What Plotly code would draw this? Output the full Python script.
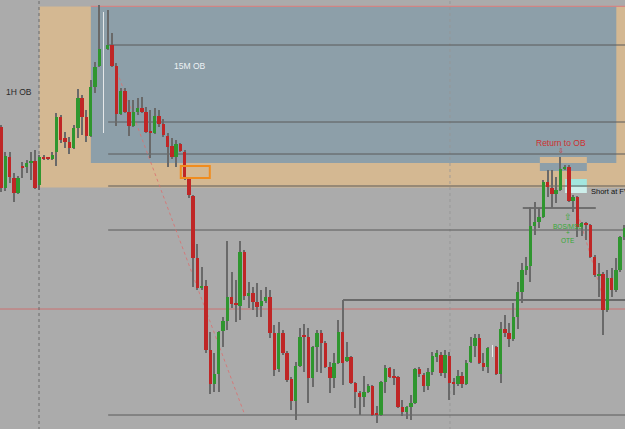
import plotly.graph_objects as go

# ---- candle data (bar index, price in points) ----
t = [i for i in range(147) if i not in (24, 115)]
open_ = [303,242,273,252,237,264,263,267,269,245,272,272,271,278,313,292,288,282,302,332,313,294,343,364,
         381,385,364,316,339,318,304,318,322,318,298,297,314,306,294,284,273,286,278,251,234,172,142,144,80,46,56,99,109,133,126,124,178,134,137,128,124,129,133,97,61,97,77,51,29,64,94,93,52,83,97,87,63,52,67,98,69,73,47,37,33,38,44,16,15,48,62,53,53,23,18,23,27,61,55,44,58,73,75,57,74,47,46,54,46,68,84,92,67,63,
         83,56,101,97,91,113,138,160,164,204,208,213,248,242,236,240,261,263,229,233,203,207,205,173,154,156,120,152,140,160,193]
high = [305,278,278,257,254,268,270,278,280,275,275,273,278,317,315,298,293,305,341,335,320,350,368,425,
        420,397,367,342,342,330,330,332,333,323,320,322,320,311,297,292,290,287,280,252,235,186,163,150,98,77,99,113,189,158,150,189,180,148,143,147,140,143,140,105,108,100,79,53,68,102,106,102,84,100,100,89,68,77,110,130,88,74,48,39,54,46,45,24,49,65,63,61,54,30,24,35,62,63,57,62,78,80,78,80,78,52,60,58,70,93,96,96,77,83,
        84,108,115,107,127,148,167,173,223,228,222,250,260,260,253,273,265,265,235,234,208,208,206,175,167,158,160,162,172,194,205]
low = [238,239,247,228,236,252,257,250,241,240,270,270,270,264,287,282,276,281,292,295,288,293,337,363,
       380,363,304,315,317,294,303,315,317,297,272,296,303,293,263,271,263,278,250,232,143,140,140,77,36,38,38,83,100,122,108,110,130,122,120,113,113,127,92,54,58,75,48,20,10,63,58,27,43,58,57,62,37,42,66,45,68,46,22,15,23,37,14,7,14,37,52,45,22,14,11,10,26,53,38,40,55,68,54,52,30,35,44,42,45,67,73,66,59,57,
       55,47,93,83,89,101,127,155,148,195,202,212,233,222,227,239,260,228,218,193,194,190,172,153,133,95,118,133,138,158,190]
close = [242,274,253,237,252,262,267,269,242,273,271,271,275,313,290,288,282,302,332,313,294,343,363,381,
         385,364,316,339,318,304,318,322,318,298,297,314,306,295,283,273,286,279,252,235,172,142,144,80,46,56,98,109,133,126,125,178,134,137,128,123,129,133,97,60,97,77,50,29,64,93,93,52,83,97,87,63,52,67,98,67,73,47,38,33,38,44,15,15,48,62,53,52,23,18,23,27,61,56,44,58,74,77,57,75,47,46,54,46,67,84,92,67,63,82,
         56,101,97,91,113,138,160,164,204,208,213,248,243,236,240,261,263,229,233,203,207,205,173,155,156,120,152,140,160,193,202]

# light (white) marks
white_t = [24, 115]
white_hi = [418, 85]
white_lo = [297, 73]

# horizontal levels
levels = [385, 308, 276, 244, 200, 15]
level_start = 25.1

GREEN = "#2f962f"
RED = "#bf2626"
WICK = "#696969"
BG = "#ababab"
ORANGE = "#d4b892"
BLUE = "#8d9fa9"
FONT = "Liberation Sans, Arial, sans-serif"

bottoms, heights, colors = [], [], []
for o, c in zip(open_, close):
    bottoms.append(min(o, c))
    heights.append(max(abs(c - o), 1.3))
    colors.append(GREEN if c >= o else RED)

fig = go.Figure()
fig.add_trace(go.Bar(x=t, y=[h - l for h, l in zip(high, low)], base=low, width=0.25,
                     marker=dict(color=WICK, line=dict(width=0)),
                     hoverinfo="skip", showlegend=False))
fig.add_trace(go.Bar(x=white_t, y=[h - l for h, l in zip(white_hi, white_lo)], base=white_lo, width=0.25,
                     marker=dict(color="rgba(245,245,245,0.85)", line=dict(width=0)),
                     hoverinfo="skip", showlegend=False))
fig.add_trace(go.Bar(x=t, y=heights, base=bottoms, width=0.8,
                     marker=dict(color=colors, line=dict(width=0)),
                     hoverinfo="skip", showlegend=False))

XR = [(0 - 1) / 4.27, (625 - 1) / 4.27]

shapes = []
shapes.append(dict(type="rect", x0=9.0, x1=150, y0=242.5, y1=423.5, fillcolor=ORANGE, line=dict(width=0), layer="below"))
shapes.append(dict(type="rect", x0=21.05, x1=144.1, y0=267, y1=423.5, fillcolor=BLUE, line=dict(width=0), layer="below"))
shapes.append(dict(type="rect", x0=126.2, x1=137.2, y0=267, y1=273, fillcolor=ORANGE, line=dict(width=0), layer="below"))
shapes.append(dict(type="rect", x0=126.2, x1=137.2, y0=259, y1=267, fillcolor=BLUE, line=dict(width=0), layer="below"))
shapes.append(dict(type="rect", x0=132.1, x1=137.2, y0=243, y1=251, fillcolor="#a3e6de", line=dict(width=0), layer="below"))
shapes.append(dict(type="rect", x0=132.1, x1=137.2, y0=237, y1=243, fillcolor="#cdeeea", line=dict(width=0), layer="below"))
shapes.append(dict(type="line", x0=21.05, x1=150, y0=423.7, y1=423.7, line=dict(color="rgba(225,120,120,0.9)", width=1), layer="below"))
shapes.append(dict(type="line", x0=-5, x1=150, y0=121, y1=121, line=dict(color="rgba(215,95,95,0.75)", width=1), layer="below"))
shapes.append(dict(type="line", x0=8.9, x1=8.9, y0=0, y1=430, line=dict(color="#6a6a6a", width=1, dash="dot"), layer="below"))
shapes.append(dict(type="line", x0=105.15, x1=105.15, y0=0, y1=430, line=dict(color="rgba(150,150,150,0.8)", width=1, dash="dot"), layer="below"))
for lv in levels:
    shapes.append(dict(type="line", x0=level_start, x1=150, y0=lv, y1=lv, line=dict(color="#5a5a5a", width=1), layer="below"))
shapes.append(dict(type="line", x0=80.1, x1=150, y0=130, y1=130, line=dict(color="#555555", width=1.3), layer="below"))
shapes.append(dict(type="line", x0=122.2, x1=139.3, y0=222, y1=222, line=dict(color="#333333", width=1), layer="below"))
shapes.append(dict(type="rect", x0=42.1, x1=48.9, y0=252, y1=264, line=dict(color="#f08c1e", width=2), fillcolor="rgba(0,0,0,0)", layer="above"))
shapes.append(dict(type="line", x0=27.2, x1=57.1, y0=358, y1=15, line=dict(color="rgba(220,110,110,0.8)", width=1, dash="dot"), layer="below"))
shapes.append(dict(type="line", x0=134.7, x1=141.2, y0=222, y1=130, line=dict(color="rgba(220,110,110,0.8)", width=1, dash="dot"), layer="below"))

annotations = [
    dict(x=4.2, y=338, text="1H OB", font=dict(color="#2a2a2a", size=8.5, family=FONT)),
    dict(x=44.2, y=364, text="15M OB", font=dict(color="#eef2f4", size=8.5, family=FONT)),
    dict(x=131.1, y=287.5, text="Return to OB", font=dict(color="#cc3030", size=8.5, family=FONT)),
    dict(x=131.1, y=279.5, text="⇩", font=dict(color="#cc3030", size=7, family=FONT)),
    dict(x=137.7, y=239, text="Short at FVG", xanchor="left", font=dict(color="#111111", size=7.5, family=FONT)),
    dict(x=132.8, y=213, text="⇧", font=dict(color="#34a834", size=9, family=FONT)),
    dict(x=132.8, y=204, text="BOS/MSS", font=dict(color="#34a834", size=6.5, family=FONT)),
    dict(x=132.8, y=197.5, text="+", font=dict(color="#34a834", size=6.5, family=FONT)),
    dict(x=132.8, y=190, text="OTE", font=dict(color="#34a834", size=6.5, family=FONT)),
]
for a in annotations:
    a.update(xref="x", yref="y", showarrow=False)

fig.update_layout(
    width=625, height=429, margin=dict(l=0, r=0, t=0, b=0),
    paper_bgcolor=BG, plot_bgcolor=BG,
    xaxis=dict(visible=False, range=XR, fixedrange=True),
    yaxis=dict(visible=False, range=[1, 430], fixedrange=True),
    barmode="overlay", bargap=0, showlegend=False,
    shapes=shapes, annotations=annotations, hovermode=False,
)

fig.write_html("out.html", config={"displayModeBar": False})
